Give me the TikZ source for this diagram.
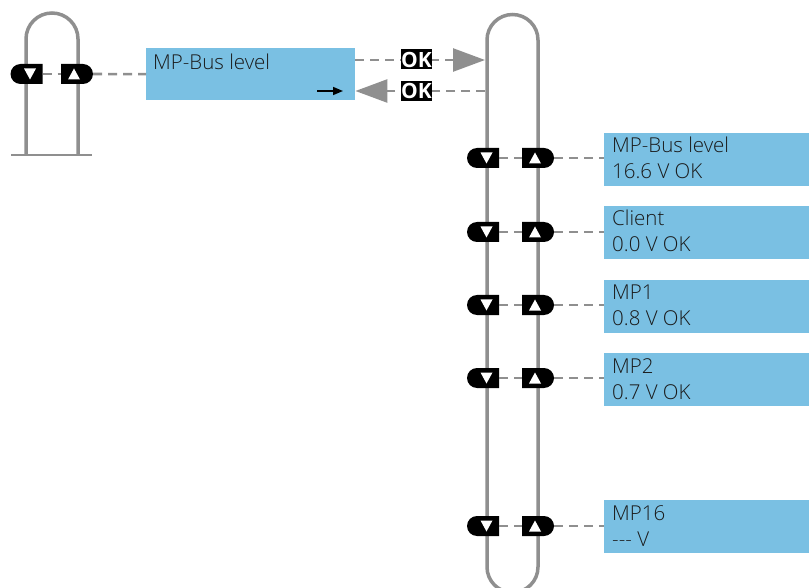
\documentclass[tikz,border=0pt]{standalone}
\usepackage{fontspec}
\setmainfont{Open Sans}[UprightFont=* Light, BoldFont=* Bold]
\usetikzlibrary{shapes.misc,arrows.meta}
\definecolor{boxblue}{HTML}{7AC0E3}
\definecolor{loopgray}{HTML}{8F8F8F}
\definecolor{txt}{HTML}{1A1A1A}
\begin{document}
\begin{tikzpicture}[x=1pt,y=-1pt,
  loopline/.style={draw=loopgray,line width=3.5pt},
  conn/.style={draw=loopgray,line width=2.6pt,dash pattern=on 9pt off 6pt},
  downbtn/.style={rounded rectangle,rounded rectangle east arc=none,fill=black,minimum width=32pt,minimum height=20pt,inner sep=0pt},
  upbtn/.style={rounded rectangle,rounded rectangle west arc=none,fill=black,minimum width=32pt,minimum height=20pt,inner sep=0pt},
  lcd/.style={rectangle,fill=boxblue,anchor=north west,inner sep=0pt},
  lcdtext/.style={anchor=base west,inner sep=0pt,text=txt,font=\fontsize{20.5}{26}\selectfont},
  okbox/.style={fill=black,text=white,font=\fontsize{21}{20}\selectfont\bfseries,minimum width=31pt,minimum height=20pt,inner sep=0pt},
  bigtip/.style={-{Triangle[length=32pt,width=23pt]}}
]
\clip (0,0) rectangle (809,588);
\useasboundingbox (0,0) rectangle (809,588);

% left loop
\draw[loopline] (26,155) -- (26,39) arc[start angle=180,end angle=0,radius=26pt] -- (78,155);
\draw[draw=loopgray,line width=2pt] (11,155) -- (92,155);

% right loop
\draw[loopline] (487,40) arc[start angle=180,end angle=0,radius=25.5pt] -- (538,567)
  arc[start angle=0,end angle=-180,radius=25.5pt] -- cycle;

% left buttons and first display
\node[lcd,minimum width=209pt,minimum height=52pt] (b0) at (146,48) {};
\node[lcdtext] (t0) at ([shift={(7,22)}]b0.north west) {MP-Bus level};
\draw[line width=1.5pt,-{Triangle[length=10pt,width=8pt]}] ([shift={(171,43)}]b0.north west) -- ([shift={(197,43)}]b0.north west);

\node[downbtn] (dl) at (26.5,74) {};
\node[upbtn] (ul) at (77,74) {};
\draw[conn] (dl.east) -- (ul.west);
\draw[conn] (ul.east) -- (b0.west);
\fill[white] ([shift={(-2.5,-5.5)}]dl.center) -- ([shift={(9.5,-5.5)}]dl.center) -- ([shift={(3.5,5.5)}]dl.center) -- cycle;
\fill[white] ([shift={(-9,5.5)}]ul.center) -- ([shift={(3,5.5)}]ul.center) -- ([shift={(-3,-5.5)}]ul.center) -- cycle;

% arrows to / from right loop
\coordinate (ua) at (485,60);
\coordinate (la) at (485,91);
\draw[conn,bigtip] (b0.east |- ua) -- (ua);
\draw[conn,bigtip] (la) -- (b0.east |- la);
\node[okbox] (ok1) at (416.5,59.5) {OK};
\node[okbox] (ok2) at (416.5,91) {OK};

% right rows
\foreach \i/\y/\t/\la/\lb in {1/158/133/MP-Bus level/16.6 V OK,
                              2/232/206/Client/0.0 V OK,
                              3/305/280/MP1/0.8 V OK,
                              4/378/353/MP2/0.7 V OK,
                              5/526/500/MP16/{-}{-}{-} V}{
  \node[lcd,minimum width=205pt,minimum height=53pt] (b\i) at (604,\t) {};
  \node[lcdtext] (ta\i) at ([shift={(8,20)}]b\i.north west) {\la};
  \node[lcdtext] (tb\i) at ([shift={(8,46)}]b\i.north west) {\lb};
  \node[downbtn] (d\i) at (483,\y) {};
  \node[upbtn] (u\i) at (538,\y) {};
  \draw[conn] (d\i.east) -- (u\i.west);
  \draw[conn] (u\i.east) -- (u\i.east -| b\i.west);
  \fill[white] ([shift={(-2.5,-5.5)}]d\i.center) -- ([shift={(9.5,-5.5)}]d\i.center) -- ([shift={(3.5,5.5)}]d\i.center) -- cycle;
  \fill[white] ([shift={(-9,5.5)}]u\i.center) -- ([shift={(3,5.5)}]u\i.center) -- ([shift={(-3,-5.5)}]u\i.center) -- cycle;
}
\end{tikzpicture}
\end{document}
